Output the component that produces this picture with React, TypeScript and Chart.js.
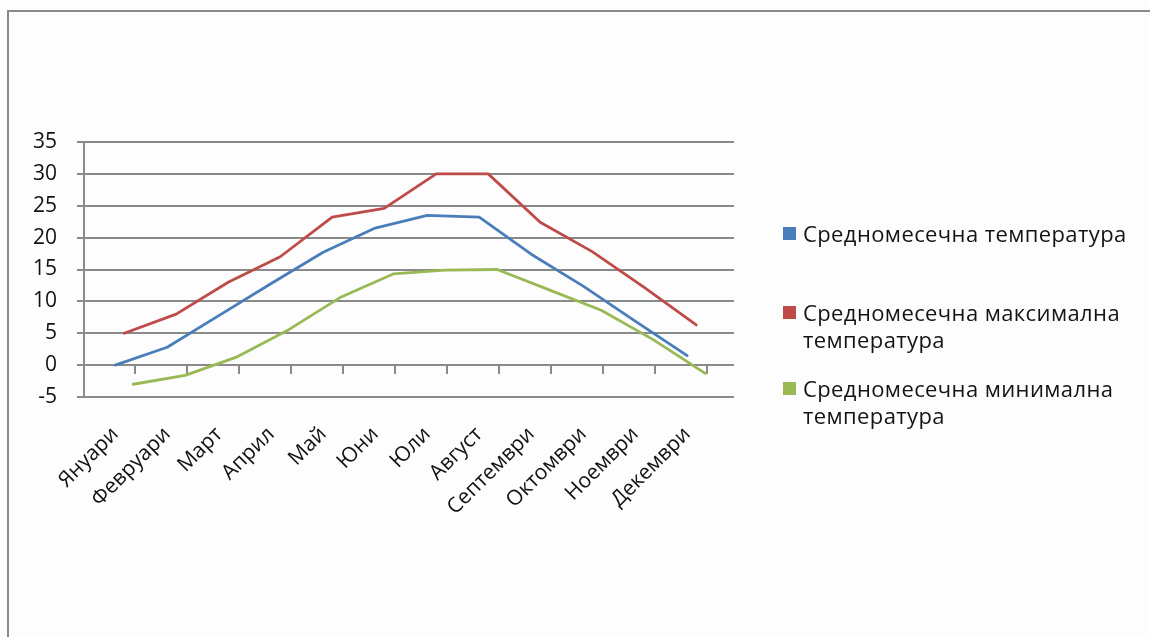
import React, { useEffect, useRef } from 'react';
import { Chart, registerables } from 'chart.js';

Chart.register(...registerables);

const months = ['Януари', 'Февруари', 'Март', 'Април', 'Май', 'Юни', 'Юли', 'Август', 'Септември', 'Октомври', 'Ноември', 'Декември'];
const seriesNames = ['Средномесечна температура', 'Средномесечна максимална температура', 'Средномесечна минимална температура'];
const avgTemp = [0, 2.8, 7.8, 12.8, 17.7, 21.5, 23.5, 23.2, 17.4, 12.4, 6.9, 1.5];
const maxTemp = [5.0, 8.0, 13.0, 17.0, 23.2, 24.6, 30.0, 30.0, 22.4, 17.8, 12.2, 6.3];
const minTemp = [-3.0, -1.6, 1.3, 5.6, 10.7, 14.3, 14.9, 15.0, 11.8, 8.6, 4.0, -1.3];
const yTicks = [-5, 0, 5, 10, 15, 20, 25, 30, 35];

const seriesColors = ['#4a7ebb', '#be4b48', '#98b954'];
// horizontal "depth" shift of each series, in category units
const seriesShift = [0, 0.173, 0.346];
const tickMarkShift = 0.385;

const FONT = "'Open Sans', 'Noto Sans', sans-serif";
const GRID = '#8a8a8a';
const LEGEND_SIZE = 22;

function wrapText(ctx: CanvasRenderingContext2D, text: string, maxW: number): string[] {
  const words = text.split(' ');
  const lines: string[] = [];
  let cur = '';
  for (const w of words) {
    const test = cur ? cur + ' ' + w : w;
    if (cur && ctx.measureText(test).width > maxW) {
      lines.push(cur);
      cur = w;
    } else {
      cur = test;
    }
  }
  if (cur) lines.push(cur);
  return lines;
}

const sideLegend = {
  id: 'sideLegend',
  afterDraw(chart: any) {
    const ctx: any = chart.ctx;
    ctx.save();
    ctx.font = `${LEGEND_SIZE}px ${FONT}`;
    try { ctx.letterSpacing = '0.4px'; } catch (e) { /* ignore */ }
    ctx.textBaseline = 'alphabetic';
    ctx.textAlign = 'left';
    const baselines = [242, 321, 397];
    chart.data.datasets.forEach((ds: any, k: number) => {
      const lines = wrapText(ctx, ds.label, 345);
      ctx.fillStyle = ds.borderColor;
      ctx.fillRect(783, baselines[k] - 15, 13, 13);
      ctx.fillStyle = '#141414';
      lines.forEach((ln: string, j: number) => ctx.fillText(ln, 803, baselines[k] + j * 26.5));
    });
    ctx.restore();
  },
};

export default function App() {
  const ref = useRef<HTMLCanvasElement>(null);

  useEffect(() => {
    if (!ref.current) return;
    const series = [avgTemp, maxTemp, minTemp];
    const chart = new Chart(ref.current, {
      type: 'line',
      data: {
        datasets: series.map((vals, k) => ({
          label: seriesNames[k],
          data: vals.map((v, i) => ({ x: i + seriesShift[k], y: v })),
          borderColor: seriesColors[k],
          backgroundColor: seriesColors[k],
          borderWidth: 2.8,
          pointRadius: 0,
          tension: 0,
          borderJoinStyle: 'round',
          borderCapStyle: 'round',
        })),
      },
      options: {
        animation: false,
        responsive: false,
        events: [],
        layout: { padding: { left: 0, top: 142, right: 416, bottom: 0 } },
        plugins: { legend: { display: false }, tooltip: { enabled: false } },
        scales: {
          x: {
            type: 'linear',
            position: 'bottom',
            min: -0.6,
            max: 11.9,
            afterBuildTicks: (axis: any) => {
              axis.ticks = months.map((_, i) => ({ value: i }));
            },
            afterFit: (axis: any) => {
              axis.height = 240;
            },
            grid: { display: false, drawTicks: false },
            border: { display: false },
            ticks: {
              autoSkip: false,
              minRotation: 45,
              maxRotation: 45,
              padding: 25,
              color: '#111',
              font: { family: FONT, size: 21 },
              callback: (v: any) => months[Math.round(Number(v))] ?? '',
            },
          },
          xMarks: {
            type: 'linear',
            axis: 'x',
            position: { y: 0 },
            min: -0.6,
            max: 11.9,
            afterBuildTicks: (axis: any) => {
              axis.ticks = months.map((_, i) => ({ value: i + tickMarkShift }));
            },
            grid: { display: true, drawOnChartArea: false, drawTicks: true, tickLength: 9, color: GRID, lineWidth: 2 },
            border: { display: false },
            ticks: { display: false },
          },
          y: {
            type: 'linear',
            min: -5,
            max: 35,
            afterBuildTicks: (axis: any) => {
              axis.ticks = yTicks.map((v) => ({ value: v }));
            },
            afterFit: (axis: any) => {
              axis.width = 84;
            },
            grid: { color: GRID, lineWidth: 2, drawTicks: true, tickLength: 7 },
            border: { display: true, color: GRID, width: 2 },
            ticks: {
              padding: 20,
              color: '#111',
              font: { family: FONT, size: 21 },
              callback: (v: any) => String(v),
            },
          },
        },
      },
      plugins: [sideLegend],
    } as any);
    return () => chart.destroy();
  }, []);

  return (
    <div style={{ position: 'fixed', inset: 0, background: '#fdfdfd', overflow: 'hidden' }}>
      <div
        style={{
          position: 'absolute',
          left: 7,
          top: 10,
          right: -10,
          bottom: -10,
          borderLeft: '2px solid #8a8a8a',
          borderTop: '2px solid #8a8a8a',
        }}
      />
      <canvas
        ref={ref}
        width={1150}
        height={637}
        style={{ position: 'absolute', left: 0, top: 0, width: 1150, height: 637 }}
      />
    </div>
  );
}
